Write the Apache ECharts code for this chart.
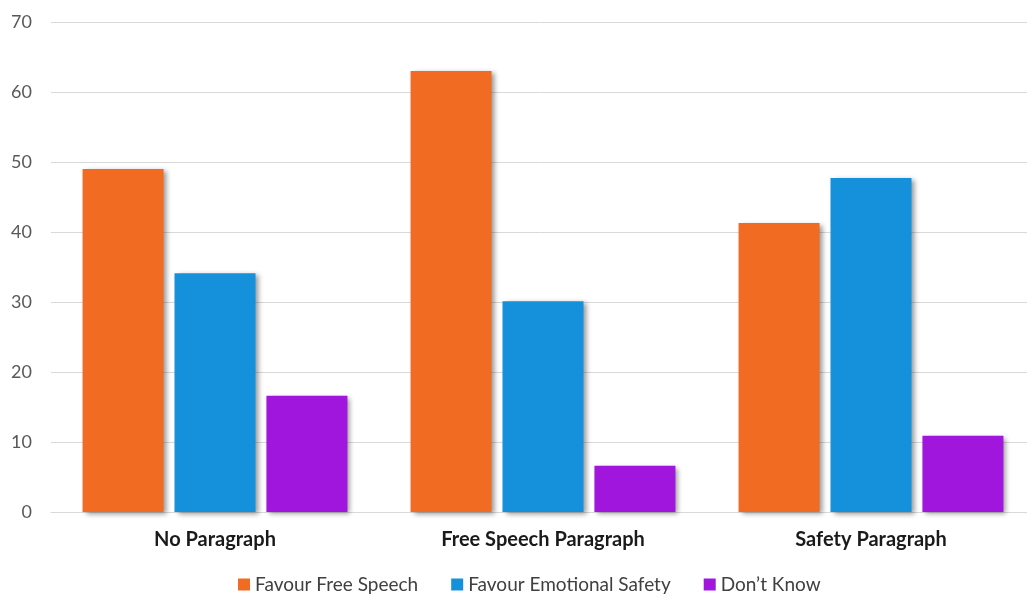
<!DOCTYPE html>
<html><head><meta charset="utf-8">
<script src="https://cdn.jsdelivr.net/npm/echarts@6/dist/echarts.min.js"></script>
<style>html,body{margin:0;padding:0;background:#fff}#c{width:1027px;height:594px}</style>
</head><body><div id="c"></div>
<script>
const categories = ['No Paragraph', 'Free Speech Paragraph', 'Safety Paragraph'];
const freeSpeech = [49.0, 63.0, 41.3];
const emotionalSafety = [34.1, 30.1, 47.7];
const dontKnow = [16.6, 6.6, 10.9];
const seriesNames = ['Favour Free Speech', 'Favour Emotional Safety', 'Don\u2019t Know'];
const colors = ['#F26B23', '#1591DC', '#A016DC'];
const shadow = {shadowColor:'rgba(0,0,0,0.4)', shadowBlur:5, shadowOffsetX:3, shadowOffsetY:2};
const chart = echarts.init(document.getElementById('c'));
const mk = (name, data, i) => ({
  name, type:'bar', data, barWidth:81, barGap:'13.5%',
  itemStyle: Object.assign({color: colors[i]}, shadow)
});
chart.setOption({
  animation:false,
  textStyle:{fontFamily:'Lato'},
  grid:{left:51, width:984, top:22, bottom:82, outerBoundsMode:'none', containLabel:false},
  legend:{top:575, left:238, padding:0, itemWidth:12, itemHeight:12, itemGap:33, icon:'rect',
    textStyle:{fontSize:19, color:'#404040', fontFamily:'Lato'}, data:seriesNames},
  xAxis:{type:'category', data:categories,
    axisLine:{lineStyle:{color:'#D9D9D9', width:1}}, axisTick:{show:false},
    axisLabel:{fontSize:20, fontWeight:'bold', color:'#1a1a1a', margin:18, fontFamily:'Lato'}},
  yAxis:{type:'value', min:0, max:70, interval:10,
    splitLine:{lineStyle:{color:'#D9D9D9', width:1}},
    axisLabel:{fontSize:18, color:'#595959', margin:19, fontFamily:'Lato'}},
  series:[mk(seriesNames[0], freeSpeech, 0), mk(seriesNames[1], emotionalSafety, 1), mk(seriesNames[2], dontKnow, 2)]
});
</script></body></html>
